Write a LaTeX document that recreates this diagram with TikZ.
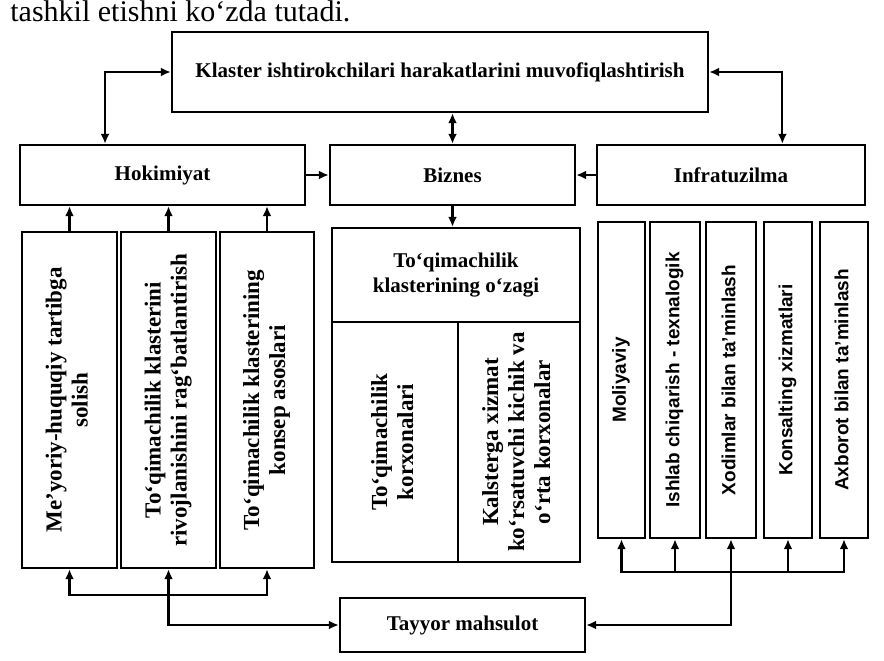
\documentclass[tikz,border=0pt]{standalone}
\usepackage{fontspec}
\setmainfont{Liberation Serif}
\setsansfont{Liberation Sans}
\usepackage{graphicx}
\usepackage{tikz}
\usetikzlibrary{positioning,arrows.meta,calc}

\newcommand{\vt}[1]{\rotatebox{90}{\begin{tabular}{@{}c@{}}#1\end{tabular}}}

\begin{document}
\begin{tikzpicture}[x=0.5pt,y=-0.5pt,
  bx/.style={draw, line width=1.2pt, inner sep=2pt, align=center, font=\fontsize{10.5}{12.5}\selectfont\bfseries},
  vbx/.style={bx, font=\fontsize{11.5}{13}\selectfont\bfseries},
  sbx/.style={bx, font=\fontsize{9.5}{11}\selectfont\sffamily\bfseries},
  arr/.style={line width=1.1pt, -{Latex[length=5pt,width=4.5pt]}},
  dbl/.style={line width=1.1pt, {Latex[length=5pt,width=4.5pt]}-{Latex[length=5pt,width=4.5pt]}}]
  \useasboundingbox (0,0) rectangle (884,660);
  \node[anchor=base west, inner sep=0pt, font=\fontsize{15}{18}\selectfont] (title) at (10,21) {tashkil etishni ko`zda tutadi.};
  \node[bx, minimum width=268pt, minimum height=40pt] (klaster) at (440,72) {Klaster ishtirokchilari harakatlarini muvofiqlashtirish};
  \node[bx, minimum width=142.5pt, minimum height=30pt] (hok) at (162.5,175) {Hokimiyat};
  \node[bx, minimum width=122.5pt, minimum height=30pt] (biz) at (452.5,175) {Biznes};
  \node[bx, minimum width=134pt, minimum height=30pt] (infra) at (731,175) {Infratuzilma};
  \node[vbx, minimum width=47.5pt, minimum height=168pt] (m1) at (69.5,400) {\vt{Me’yoriy-huquqiy tartibga\\solish}};
  \node[vbx, minimum width=47.5pt, minimum height=168pt] (m2) at (168.5,400) {\vt{To`qimachilik klasterini\\rivojlanishini rag`batlantirish}};
  \node[vbx, minimum width=47pt, minimum height=168pt] (m3) at (267,400) {\vt{To`qimachilik klasterining\\konsep asoslari}};
  \node[bx, minimum width=124pt, minimum height=47pt] (core) at (456,275) {To`qimachilik\\klasterining o`zagi};
  \node[vbx, minimum width=63pt, minimum height=120pt] (kor1) at (395,442) {\vt{To`qimachilik\\korxonalari}};
  \node[vbx, minimum width=61pt, minimum height=120pt] (kor2) at (519,442) {\vt{Kalsterga xizmat\\ko`rsatuvchi kichik va\\o`rta korxonalar}};
  \node[sbx, minimum width=23.5pt, minimum height=158pt] (r1) at (621.5,380) {\vt{Moliyaviy}};
  \node[sbx, minimum width=25pt, minimum height=158pt] (r2) at (675,380) {\vt{Ishlab chiqarish - texnalogik}};
  \node[sbx, minimum width=25pt, minimum height=158pt] (r3) at (731,380) {\vt{Xodimlar bilan ta’minlash}};
  \node[sbx, minimum width=24pt, minimum height=158pt] (r4) at (788,380) {\vt{Konsalting xizmatlari}};
  \node[sbx, minimum width=24pt, minimum height=158pt] (r5) at (844,380) {\vt{Axborot bilan ta’minlash}};
  \node[bx, minimum width=122.5pt, minimum height=27pt] (ready) at (462.5,625) {Tayyor mahsulot};
  \coordinate (lb) at (168.5,595);
  \coordinate (rb) at (731,572);

  \draw[dbl] (klaster.west) -| ($(hok.north west)!0.3!(hok.north east)$);
  \draw[dbl] (klaster.east) -| ($(infra.north west)!0.69!(infra.north east)$);
  \draw[dbl] (klaster.south -| biz.north) -- (biz.north);
  \draw[arr] (hok) -- (biz);
  \draw[arr] (infra) -- (biz);
  \draw[arr] (biz.south) -- (biz.south |- core.north);
  \foreach \i in {1,2,3}
    \draw[arr] (m\i.north) -- (m\i.north |- hok.south);
  \draw[dbl] (m2.south) |- (ready.west);
  \draw[dbl] (m1.south) |- (lb) -| (m3.south);
  \draw[dbl] (r3.south) |- (ready.east);
  \draw[dbl] (r1.south) |- (rb) -| (r5.south);
  \foreach \i in {2,4}
    \draw[arr] (rb -| r\i.south) -- (r\i.south);
\end{tikzpicture}
\end{document}
